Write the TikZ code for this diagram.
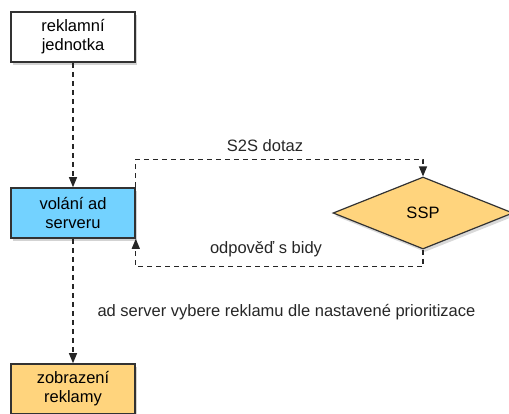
\documentclass[tikz,border=0pt]{standalone}
\usepackage{fontspec}
\setmainfont{Liberation Sans}
\usepackage{tikz}
\usetikzlibrary{arrows.meta,positioning,shapes.geometric,shadows}

\definecolor{boxblue}{RGB}{115,210,255}
\definecolor{boxorange}{RGB}{255,212,125}
\definecolor{edgegray}{RGB}{50,50,50}

\begin{document}
\begin{tikzpicture}[
x=1pt, y=-1pt,
block/.style={draw=edgegray, line width=1.6pt, minimum width=124pt, minimum height=50pt, align=center, inner sep=2pt,
  font=\fontsize{16.5}{19}\selectfont, drop shadow={shadow xshift=2pt, shadow yshift=-3pt, opacity=0.35}},
decision/.style={diamond, draw=edgegray, line width=1.2pt, fill=boxorange, minimum width=180pt, minimum height=72pt, inner sep=0pt,
  font=\fontsize{16.5}{19}\selectfont, drop shadow={shadow xshift=2pt, shadow yshift=-3pt, opacity=0.3}},
arrow/.style={-{Triangle[length=10pt,width=8pt]}, line width=1.2pt, dash pattern=on 5pt off 4pt, draw=black!85},
label/.style={font=\fontsize{16.5}{19}\selectfont, text=black!85}
]
\useasboundingbox (0,0) rectangle (509,413);

% Boxes on the left side
\node[block, fill=white] (unit) at (73,37) {reklamní\\jednotka};
\node[block, fill=boxblue] (call) at (73,213) {volání ad\\serveru};
\node[block, fill=boxorange] (show) at (73,389) {zobrazení\\reklamy};

% SSP
\node[decision] (ssp) at (423,213) {SSP};

% Labels
\node[label] (query) at (265,146) {S2S dotaz};
\node[label] (answer) at (266,249) {odpověď s bidy};
\node[label, anchor=west] (choose) at (94,312) {ad server vybere reklamu dle nastavené prioritizace};

% Arrows down
\draw[arrow] (unit) -- (call);
\draw[arrow] (call) -- (show);

% Request and response
\draw[arrow] (call.north east) -- ++(0,-28) -| (ssp.north);
\draw[arrow] (ssp.south) -- ++(0,17) -| (call.south east);

\end{tikzpicture}
\end{document}
